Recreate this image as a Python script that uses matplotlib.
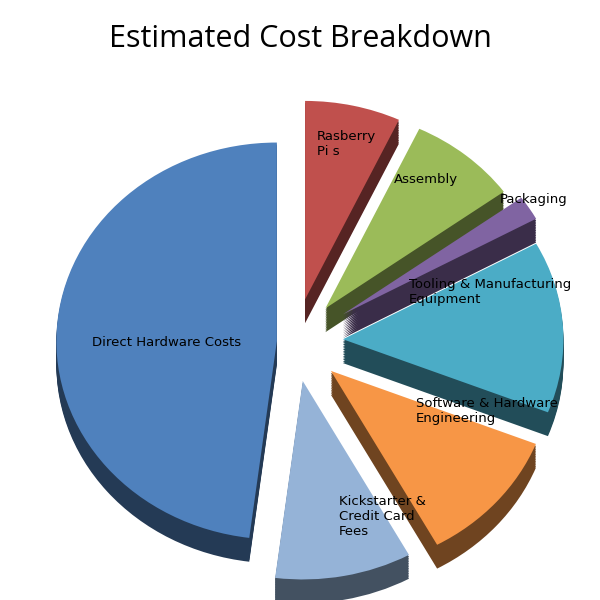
import numpy as np
import matplotlib.pyplot as plt
import matplotlib.colors as mcolors

labels = ["Rasberry\nPi s", "Assembly", "Packaging", "Tooling & Manufacturing\nEquipment",
          "Software & Hardware\nEngineering", "Kickstarter &\nCredit Card\nFees", "Direct Hardware Costs"]
values = [7, 8, 2, 14, 11, 10, 48]
colors = ["#c0504d", "#9bbb59", "#8064a2", "#4bacc6", "#f79646", "#95b3d7", "#4f81bd"]
explode = [0.22, 0.22, 0.26, 0.22, 0.22, 0.2, 0.08]

fig = plt.figure(figsize=(6, 6), dpi=100)
ax = fig.add_axes([0.02, 0.0, 0.96, 0.86])

dark = [tuple(np.array(mcolors.to_rgb(c)) * 0.45) for c in colors]
for d in np.linspace(0.12, 0.01, 14):
    ax.pie(values, colors=dark, explode=explode, startangle=90, counterclock=False,
           center=(0, -d), radius=1.0)
wedges, texts = ax.pie(values, colors=colors, explode=explode, startangle=90,
                       counterclock=False, labels=labels, labeldistance=0.62,
                       radius=1.0, textprops=dict(fontsize=9.5, color="black"))
for t, lab in zip(texts, labels):
    t.set_ha("left" if lab != "Direct Hardware Costs" else "center")
texts[0].set_position((0.10, 1.00))
texts[1].set_position((0.45, 0.82))
texts[2].set_position((0.93, 0.72))
texts[3].set_position((0.52, 0.25))
texts[4].set_position((0.55, -0.35))
texts[5].set_position((0.20, -0.88))
texts[6].set_position((-0.58, 0.0))

ax.set_aspect(0.9)
ax.set_xlim(-1.25, 1.3)
ax.set_ylim(-1.3, 1.3)
ax.axis("off")
fig.suptitle("Estimated Cost Breakdown", fontsize=22, y=0.96, family="Open Sans")
fig.savefig("out.png")
